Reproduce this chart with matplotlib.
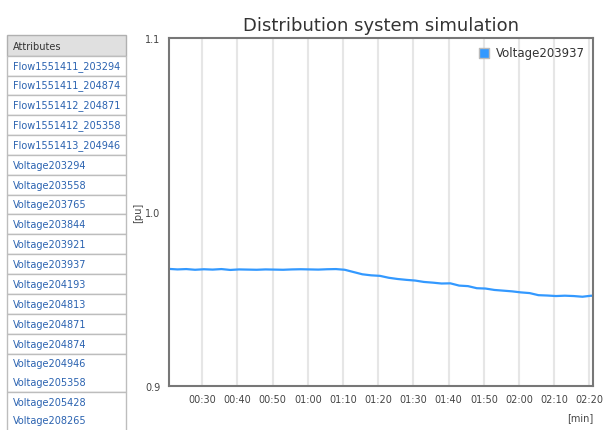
import matplotlib.pyplot as plt
from matplotlib.patches import Rectangle
from matplotlib.ticker import FixedLocator, FuncFormatter

# time in seconds, voltage in pu
t = [20.6, 23, 25.5, 28, 30.5, 33, 35.5, 38, 40.5, 43, 45.5, 48, 50.5, 53, 55.5,
     58, 60.5, 63, 65.5, 68, 70.5, 73, 75.5, 78, 80.5, 83, 85.5, 88, 90.5, 93,
     95.5, 98, 100.5, 103, 105.5, 108, 110.5, 113, 115.5, 118, 120.5, 123, 125.5,
     128, 130.5, 133, 135.5, 138, 140.5, 141]
v = [0.9673, 0.9670, 0.9672, 0.9668, 0.9671, 0.9669, 0.9672, 0.9667, 0.9670,
     0.9669, 0.9668, 0.9670, 0.9669, 0.9668, 0.9670, 0.9671, 0.9670, 0.9669,
     0.9671, 0.9672, 0.9668, 0.9655, 0.9642, 0.9636, 0.9633, 0.9622, 0.9615,
     0.9610, 0.9606, 0.9598, 0.9594, 0.9589, 0.9590, 0.9577, 0.9574, 0.9562,
     0.9560, 0.9552, 0.9548, 0.9544, 0.9538, 0.9534, 0.9522, 0.9520, 0.9517,
     0.9519, 0.9517, 0.9513, 0.9519, 0.9517]

xticks = [30, 40, 50, 60, 70, 80, 90, 100, 110, 120, 130, 140]

attributes = ['Flow1551411_203294', 'Flow1551411_204874', 'Flow1551412_204871',
              'Flow1551412_205358', 'Flow1551413_204946', 'Voltage203294',
              'Voltage203558', 'Voltage203765', 'Voltage203844', 'Voltage203921',
              'Voltage203937', 'Voltage204193', 'Voltage204813', 'Voltage204871',
              'Voltage204874', 'Voltage204946', 'Voltage205358', 'Voltage205428',
              'Voltage208265']

fig = plt.figure(figsize=(6.03, 4.31), dpi=100)

# sidebar list, drawn in pixel coordinates
side = fig.add_axes([0, 0, 135 / 603, 1])
side.set_xlim(0, 135)
side.set_ylim(431, 0)
side.axis('off')
side.add_patch(Rectangle((7, 36), 119, 21, facecolor='#e0e0e0', edgecolor='#b0b0b0', lw=1))
side.text(13, 47, 'Attributes', fontsize=7, color='#333333', va='center')
bounds = [57, 77, 96, 116, 136, 156, 176, 196, 215, 235, 255, 275, 295, 315, 335, 355, 393, 440]
for top, bot in zip(bounds[:-1], bounds[1:]):
    side.add_patch(Rectangle((7, top), 119, bot - top, facecolor='white',
                             edgecolor='#bdbdbd', lw=1))
ys = [67, 86, 106, 126, 146, 166, 186, 205, 225, 245, 265, 285, 305, 325, 345,
      364, 383, 403, 421]
for name, y in zip(attributes, ys):
    side.text(13, y, name, fontsize=7, color='#2a62b0', va='center')

ax = fig.add_axes([169 / 603, 1 - 387 / 431, 424 / 603, 348 / 431])
ax.plot(t, v, color='#3399ff', lw=1.6)
ax.set_xlim(20.6, 141)
ax.set_ylim(0.9, 1.1)
ax.xaxis.set_major_locator(FixedLocator(xticks))
ax.xaxis.set_major_formatter(FuncFormatter(lambda x, p: '%02d:%02d' % (x // 60, x % 60)))
ax.set_yticks([0.9, 1.0, 1.1])
ax.set_yticklabels(['0.9', '1.0', '1.1'])
ax.tick_params(length=0, labelsize=7, colors='#444444', pad=6)
ax.grid(axis='x', color='#e6e6e6', lw=1.5)
for s in ax.spines.values():
    s.set_color('#777777')
    s.set_linewidth(1.5)
ax.set_title('Distribution system simulation', fontsize=13, color='#333333', pad=6)
ax.set_ylabel('[pu]', fontsize=7, color='#444444', labelpad=2)
ax.text(1.0, -0.09, '[min]', transform=ax.transAxes, ha='right', va='center',
        fontsize=7, color='#444444')
h = ax.scatter([], [], marker='s', s=50, color='#3399ff', edgecolors='#bbbbbb')
ax.legend([h], ['Voltage203937'], loc='upper right', frameon=False, fontsize=8.5,
          handletextpad=0.0, borderaxespad=0.3, labelcolor='#333333')

fig.savefig('out.png', dpi=100)
